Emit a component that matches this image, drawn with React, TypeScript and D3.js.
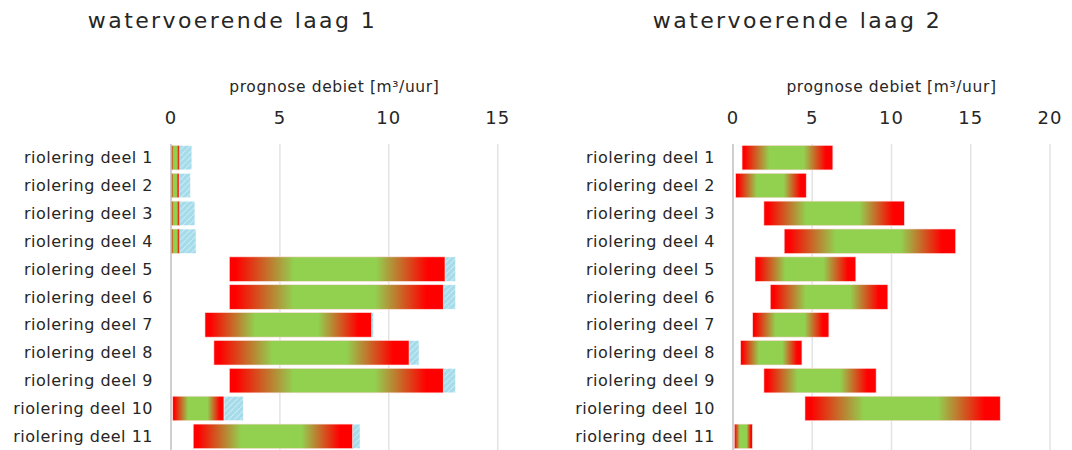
import React from 'react';
import * as d3 from 'd3';

const categories = [
  'riolering deel 1', 'riolering deel 2', 'riolering deel 3', 'riolering deel 4',
  'riolering deel 5', 'riolering deel 6', 'riolering deel 7', 'riolering deel 8',
  'riolering deel 9', 'riolering deel 10', 'riolering deel 11',
];

// laag 1: ondergrens, bovengrens prognose, maximum (gearceerd)
const laag1Min = [0, 0, 0, 0, 2.68, 2.68, 1.56, 1.97, 2.68, 0.08, 1.02];
const laag1Max = [0.4, 0.37, 0.4, 0.4, 12.58, 12.5, 9.21, 10.93, 12.5, 2.43, 8.33];
const laag1Extra = [0.96, 0.9, 1.1, 1.15, 13.07, 13.07, 9.3, 11.39, 13.07, 3.32, 8.68];

// laag 2
const laag2Min = [0.57, 0.17, 1.95, 3.23, 1.39, 2.35, 1.24, 0.48, 1.95, 4.54, 0.08];
const laag2Max = [6.3, 4.62, 10.81, 14.05, 7.75, 9.77, 6.05, 4.35, 9.03, 16.86, 1.22];
const laag2Extra = [6.3, 4.62, 10.81, 14.05, 7.75, 9.77, 6.05, 4.35, 9.03, 16.86, 1.22];

const ticks1 = [0, 5, 10, 15];
const ticks2 = [0, 5, 10, 15, 20];

const font = '"DejaVu Sans", sans-serif';
const textColor = '#262626';

type PanelProps = {
  title: string;
  titleX: number;
  mins: number[];
  maxs: number[];
  extras: number[];
  ticks: number[];
  x0: number;
  x1: number;
  labelX: number;
};

const Panel: React.FC<PanelProps> = ({ title, titleX, mins, maxs, extras, ticks, x0, x1, labelX }) => {
  const x = d3.scaleLinear().domain([0, ticks[ticks.length - 1]]).range([x0, x1]);
  const y = d3.scaleBand<string>().domain(categories).range([144, 450]).paddingInner(0.12).paddingOuter(0.05);
  const cx = (x0 + x1) / 2;

  return (
    <g>
      <text x={titleX} y={28} textAnchor="middle" fontFamily={font} fontSize={22} letterSpacing={2.4} fill={textColor}>
        {title}
      </text>
      <text x={cx} y={92} textAnchor="middle" fontFamily={font} fontSize={15.5} letterSpacing={0.6} fill={textColor}>
        prognose debiet [m³/uur]
      </text>
      {ticks.map(t => (
        <g key={t}>
          <text x={x(t)} y={124} textAnchor="middle" fontFamily={font} fontSize={18} letterSpacing={1} fill={textColor}>{t}</text>
          {t > 0 && <line x1={x(t)} x2={x(t)} y1={144} y2={450} stroke="#e3e3e3" strokeWidth={1.5} />}
        </g>
      ))}
      {categories.map((c, i) => {
        const by = y(c)!;
        const h = y.bandwidth();
        return (
          <g key={c}>
            <text x={labelX} y={by + h / 2 + 5.5} textAnchor="end" fontFamily={font} fontSize={16} letterSpacing={0.5} fill={textColor}>{c}</text>
            {extras[i] > maxs[i] && (
              <rect x={x(maxs[i])} y={by} width={x(extras[i]) - x(maxs[i])} height={h}
                fill="url(#hatch)" stroke="#fff" strokeWidth={0.6} />
            )}
            <rect x={x(mins[i])} y={by} width={x(maxs[i]) - x(mins[i])} height={h}
              fill="url(#rgr)" stroke="#fdd" strokeWidth={0.6} />
          </g>
        );
      })}
      <line x1={x(0)} x2={x(0)} y1={144} y2={450} stroke="#bfbfbf" strokeWidth={1.5} />
    </g>
  );
};

const App: React.FC = () => {
  return (
    <div style={{ position: 'absolute', left: 0, top: 0 }}>
      <svg width={1072} height={450} style={{ display: 'block', background: '#fff' }}>
        <defs>
          <linearGradient id="rgr" x1="0" x2="1" y1="0" y2="0">
            <stop offset="0" stopColor="#ff0000" />
            <stop offset="0.03" stopColor="#ff0000" />
            <stop offset="0.3" stopColor="#92d050" />
            <stop offset="0.68" stopColor="#92d050" />
            <stop offset="0.92" stopColor="#ff0000" />
            <stop offset="1" stopColor="#ff0000" />
          </linearGradient>
          <pattern id="hatch" width={6} height={6} patternUnits="userSpaceOnUse">
            <rect width={6} height={6} fill="#a6dbea" />
            <path d="M-1,7 L7,-1" stroke="#c8ebf4" strokeWidth={1.2} />
          </pattern>
        </defs>
        <Panel title="watervoerende laag 1" titleX={232.5} mins={laag1Min} maxs={laag1Max} extras={laag1Extra}
          ticks={ticks1} x0={171} x1={497.7} labelX={153} />
        <Panel title="watervoerende laag 2" titleX={797.5} mins={laag2Min} maxs={laag2Max} extras={laag2Extra}
          ticks={ticks2} x0={733} x1={1050} labelX={715} />
      </svg>
    </div>
  );
};

export default App;
